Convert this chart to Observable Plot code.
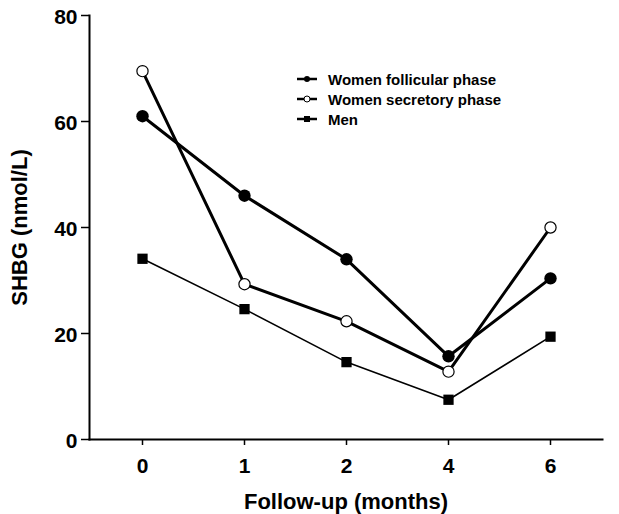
<!DOCTYPE html>
<html>
<head>
<meta charset="utf-8">
<script src="https://cdn.jsdelivr.net/npm/d3@7"></script>
<script src="https://cdn.jsdelivr.net/npm/@observablehq/plot@0.6"></script>
<style>
  html, body { margin: 0; padding: 0; background: #fff; }
  #wrap { position: relative; width: 619px; height: 514px; font-family: "Liberation Sans", Arial, sans-serif; }
  #legend { position: absolute; left: 296px; top: 69px; font-weight: bold; font-size: 15px; color: #000; }
  #legend .row { display: flex; align-items: center; height: 20px; }
  #legend svg { margin-right: 10px; }
</style>
</head>
<body>
<div id="wrap"><div id="legend"></div></div>
<script>
const months = ["0", "1", "2", "4", "6"];
const follicular = [61.0, 46.0, 34.0, 15.7, 30.4];
const secretory = [69.5, 29.3, 22.3, 12.8, 40.0];
const men = [34.1, 24.6, 14.6, 7.5, 19.4];
const seriesNames = ["Women follicular phase", "Women secretory phase", "Men"];
const yTicks = [0, 20, 40, 60, 80];

const rows = (vals, name) => vals.map((v, i) => ({month: months[i], value: v, series: name}));
const fol = rows(follicular, seriesNames[0]);
const sec = rows(secretory, seriesNames[1]);
const mn = rows(men, seriesNames[2]);

const chart = Plot.plot({
  width: 619,
  height: 514,
  marginLeft: 89,
  marginRight: 17,
  marginTop: 15,
  marginBottom: 75,
  style: {fontFamily: '"Liberation Sans", Arial, sans-serif', fontWeight: "bold", fontSize: "21px", color: "#000", background: "#fff"},
  x: {type: "point", domain: months, padding: 0.5},
  y: {domain: [0, 80]},
  marks: [
    Plot.axisY({ticks: yTicks, tickSize: 8, strokeWidth: 1.5, label: null, text: null}),
    Plot.axisY({ticks: yTicks, tickSize: 0, tickPadding: 12, fontSize: 21, dy: 2, label: null}),
    Plot.axisY({ticks: [], label: "SHBG (nmol/L)", labelAnchor: "center", labelOffset: 78, labelArrow: "none", fontSize: 22}),
    Plot.axisX({tickSize: 6, tickPadding: 13, strokeWidth: 1.5, fontSize: 21, label: null}),
    Plot.axisX({ticks: [], label: "Follow-up (months)", labelAnchor: "center", labelOffset: 69, labelArrow: "none", fontSize: 22}),
    Plot.frame({anchor: "left", strokeWidth: 2}),
    Plot.frame({anchor: "bottom", strokeWidth: 2}),
    Plot.line(mn, {x: "month", y: "value", stroke: "#000", strokeWidth: 1.6}),
    Plot.line(fol, {x: "month", y: "value", stroke: "#000", strokeWidth: 3}),
    Plot.line(sec, {x: "month", y: "value", stroke: "#000", strokeWidth: 3}),
    Plot.dot(mn, {x: "month", y: "value", symbol: "square", r: 5.8, fill: "#000", stroke: "none"}),
    Plot.dot(fol, {x: "month", y: "value", symbol: "circle", r: 6.2, fill: "#000", stroke: "none"}),
    Plot.dot(sec, {x: "month", y: "value", symbol: "circle", r: 5.6, fill: "#fff", stroke: "#000", strokeWidth: 1.2})
  ]
});
document.getElementById("wrap").prepend(chart);

// legend
const legend = d3.select("#legend");
const legendMarkers = ["filled", "open", "square"];
seriesNames.forEach((name, i) => {
  const row = legend.append("div").attr("class", "row");
  const s = row.append("svg").attr("width", 22).attr("height", 10);
  s.append("line").attr("x1", 1).attr("x2", 21).attr("y1", 5).attr("y2", 5).attr("stroke", "#000").attr("stroke-width", 2.5);
  if (legendMarkers[i] === "filled") s.append("circle").attr("cx", 11).attr("cy", 5).attr("r", 3).attr("fill", "#000");
  else if (legendMarkers[i] === "open") s.append("circle").attr("cx", 11).attr("cy", 5).attr("r", 3).attr("fill", "#fff").attr("stroke", "#000").attr("stroke-width", 1);
  else s.append("rect").attr("x", 8).attr("y", 2).attr("width", 6).attr("height", 6).attr("fill", "#000");
  row.append("span").text(name);
});
</script>
</body>
</html>
